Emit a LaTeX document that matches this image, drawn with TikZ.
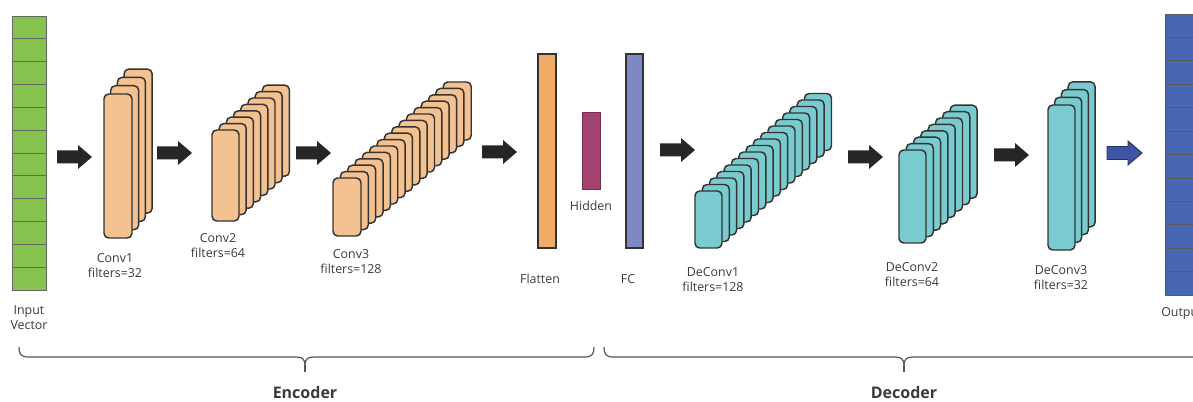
\documentclass[tikz,border=0pt]{standalone}
\usepackage{fontspec}
\setmainfont{Open Sans}
\definecolor{txt}{HTML}{3A3A3A}
\definecolor{convfill}{HTML}{F4C190}
\definecolor{tealfill}{HTML}{79CBCF}
\definecolor{greenfill}{HTML}{86C24E}
\definecolor{flatfill}{HTML}{F0AC66}
\definecolor{hidfill}{HTML}{A3426F}
\definecolor{fcfill}{HTML}{7D88C6}
\definecolor{outfill}{HTML}{4767B3}
\definecolor{bluearr}{HTML}{3F54A5}
\definecolor{edge}{HTML}{333333}
\definecolor{bracec}{HTML}{555555}
\newcommand\layerstack[8]{%
  \foreach \i in {#5,...,1}{%
    \pgfmathsetmacro\xx{#1+(\i-1)*#6}%
    \pgfmathsetmacro\yy{#2-(\i-1)*#7}%
    \draw[layer,fill=#8] (\xx,\yy) rectangle ++(#3,#4);
  }%
}
\begin{document}
\begin{tikzpicture}[x=0.75pt,y=-0.75pt,
  layer/.style={draw=edge,line width=1.1pt,rounded corners=3.5pt},
  lbl/.style={text=txt,align=center,font=\fontsize{9.3}{11.2}\selectfont,inner sep=0pt},
  big/.style={text=txt,font=\fontsize{12}{14}\selectfont\bfseries,inner sep=0pt},
  bracepath/.style={draw=bracec,line width=0.9pt},
  blockarrow/.pic={\path[pic actions] (0,-6.5) -- (21,-6.5) -- (21,-12) -- (35,0) -- (21,12) -- (21,6.5) -- (0,6.5) -- cycle;}
]
\useasboundingbox (0,0) rectangle (1193,402);

% input vector
\foreach \i in {0,...,11}
  \draw[draw=gray!80!black,line width=0.6pt,fill=greenfill] (12,{16+\i*22.83}) rectangle ++(34,22.83);
\node[lbl] (inlbl) at (29,318) {Input\\Vector};

% arrows
\pic[fill=black!85] at (57,157) {blockarrow};
\pic[fill=black!85] at (157,153) {blockarrow};
\pic[fill=black!85] at (296,153) {blockarrow};
\pic[fill=black!85] at (482,152) {blockarrow};
\pic[fill=black!85] at (660,150) {blockarrow};
\pic[fill=black!85] at (848,157) {blockarrow};
\pic[fill=black!85] at (994,155) {blockarrow};
\pic[fill=bluearr,draw=bluearr!60!black,line width=0.7pt] at (1107,153) {blockarrow};

% encoder stacks
\layerstack{104}{94}{28}{144}{4}{6.7}{8.3}{convfill}
\node[lbl] (c1) at (115,266) {Conv1\\filters=32};
\layerstack{212}{130}{27}{91}{8}{7.2}{6.4}{convfill}
\node[lbl] (c2) at (218,246) {Conv2\\filters=64};
\layerstack{333}{178}{28}{58}{16}{7.35}{6.4}{convfill}
\node[lbl] (c3) at (351,262) {Conv3\\filters=128};

% flatten / hidden / fc
\draw[draw=edge,line width=0.8pt,fill=flatfill] (538,54) rectangle (556,248);
\node[lbl] (flat) at (540,279) {Flatten};
\draw[draw=hidfill!70!black,line width=0.6pt,fill=hidfill] (582,112) rectangle (600,189);
\node[lbl] (hid) at (591,206) {Hidden};
\draw[draw=edge,line width=0.8pt,fill=fcfill] (626,54) rectangle (643,248);
\node[lbl] (fc) at (628,279) {FC};

% decoder stacks
\layerstack{695}{191}{27}{57}{16}{7.3}{6.5}{tealfill}
\node[lbl] (d1) at (713,280) {DeConv1\\filters=128};
\layerstack{899}{150}{27}{93}{8}{7.3}{6.4}{tealfill}
\node[lbl] (d2) at (912,275) {DeConv2\\filters=64};
\layerstack{1048}{105}{27}{145}{4}{6.7}{7.7}{tealfill}
\node[lbl] (d3) at (1061,278) {DeConv3\\filters=32};

% output vector
\foreach \i in {0,...,11}
  \draw[draw=gray!70!black,line width=0.6pt,fill=outfill] (1165,{14+\i*23.42}) rectangle ++(34,23.42);
\node[lbl,anchor=west] (outlbl) at (1161,313) {Output};

% braces
\draw[bracepath] (19,347) .. controls (19,354) and (21,357) .. (28,357) -- (296,357)
  .. controls (302,357) and (305,359) .. (305,365)
  .. controls (305,359) and (308,357) .. (314,357) -- (585,357)
  .. controls (592,357) and (594,354) .. (594,347);
\draw[bracepath] (305,365) -- (305,372);
\node[big] (enc) at (305,393) {Encoder};

\draw[bracepath] (604,347) .. controls (604,354) and (606,357) .. (613,357) -- (895,357)
  .. controls (901,357) and (904,359) .. (904,365)
  .. controls (904,359) and (907,357) .. (913,357) -- (1195,357)
  .. controls (1202,357) and (1204,354) .. (1204,347);
\draw[bracepath] (904,365) -- (904,372);
\node[big] (dec) at (904,393) {Decoder};
\end{tikzpicture}
\end{document}
